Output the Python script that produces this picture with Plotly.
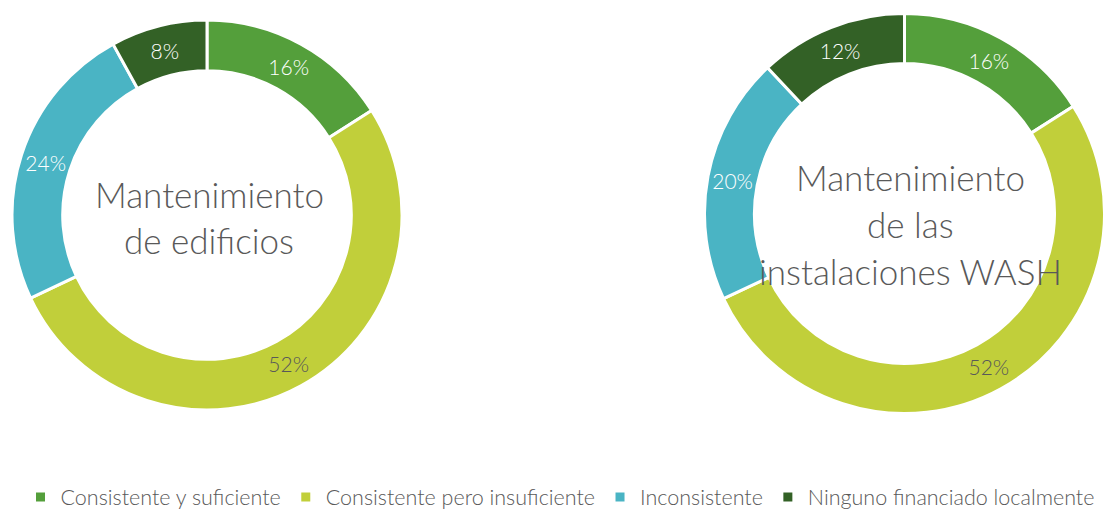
import plotly.graph_objects as go

categories = ["Consistente y suficiente", "Consistente pero insuficiente",
              "Inconsistente", "Ninguno financiado localmente"]
edificios = [16, 52, 24, 8]
wash = [16, 52, 20, 12]
colors = ["#549f3b", "#c1cf3a", "#4ab4c4", "#336126"]
label_colors = ["#ffffff", "#595959", "#ffffff", "#ffffff"]
title_left = ["Mantenimiento", "de edificios"]
title_right = ["Mantenimiento", "de las", "instalaciones WASH"]

FONT = "Lato"
OFF = 8                      # page body margin
W, H = 1113 - OFF, 509 - OFF

def dom(cx, cy, r):
    cx, cy = cx - OFF, cy - OFF
    return dict(x=[(cx - r) / W, (cx + r) / W],
                y=[(H - cy - r) / H, (H - cy + r) / H])

fig = go.Figure()
for vals, d, hole, show in [(edificios, dom(207, 215, 195), 0.74, True),
                            (wash, dom(904.5, 213.5, 200), 0.75, False)]:
    fig.add_trace(go.Pie(
        labels=categories, values=vals, hole=hole, sort=False,
        direction="clockwise", rotation=0, domain=d,
        marker=dict(colors=colors, line=dict(color="white", width=3)),
        textinfo="percent", textposition="inside",
        insidetextorientation="horizontal",
        insidetextfont=dict(color=label_colors, size=21, family=FONT, weight=300),
        hoverinfo="label+percent", showlegend=show,
    ))

anns = []
def add_lines(lines, cx, cy0, step):
    for i, t in enumerate(lines):
        anns.append(dict(text=t, x=(cx - OFF) / W, y=(H - (cy0 - OFF + i * step)) / H,
                         xref="paper", yref="paper", showarrow=False,
                         xanchor="center", yanchor="middle",
                         font=dict(size=35, color="#595959", family=FONT, weight=300)))

add_lines(title_left, 209, 194, 46)
add_lines(title_right, 910, 177, 47)

fig.update_layout(
    width=W, height=H, margin=dict(l=0, r=0, t=0, b=0, autoexpand=False),
    paper_bgcolor="white", plot_bgcolor="white",
    annotations=anns,
    legend=dict(orientation="h", x=(560 - OFF) / W, xanchor="center",
                y=(509 - 497) / H, yanchor="middle",
                font=dict(size=21.5, color="#595959", family=FONT, weight=300),
                itemwidth=30, tracegroupgap=0),
)
fig.write_html("out.html")
